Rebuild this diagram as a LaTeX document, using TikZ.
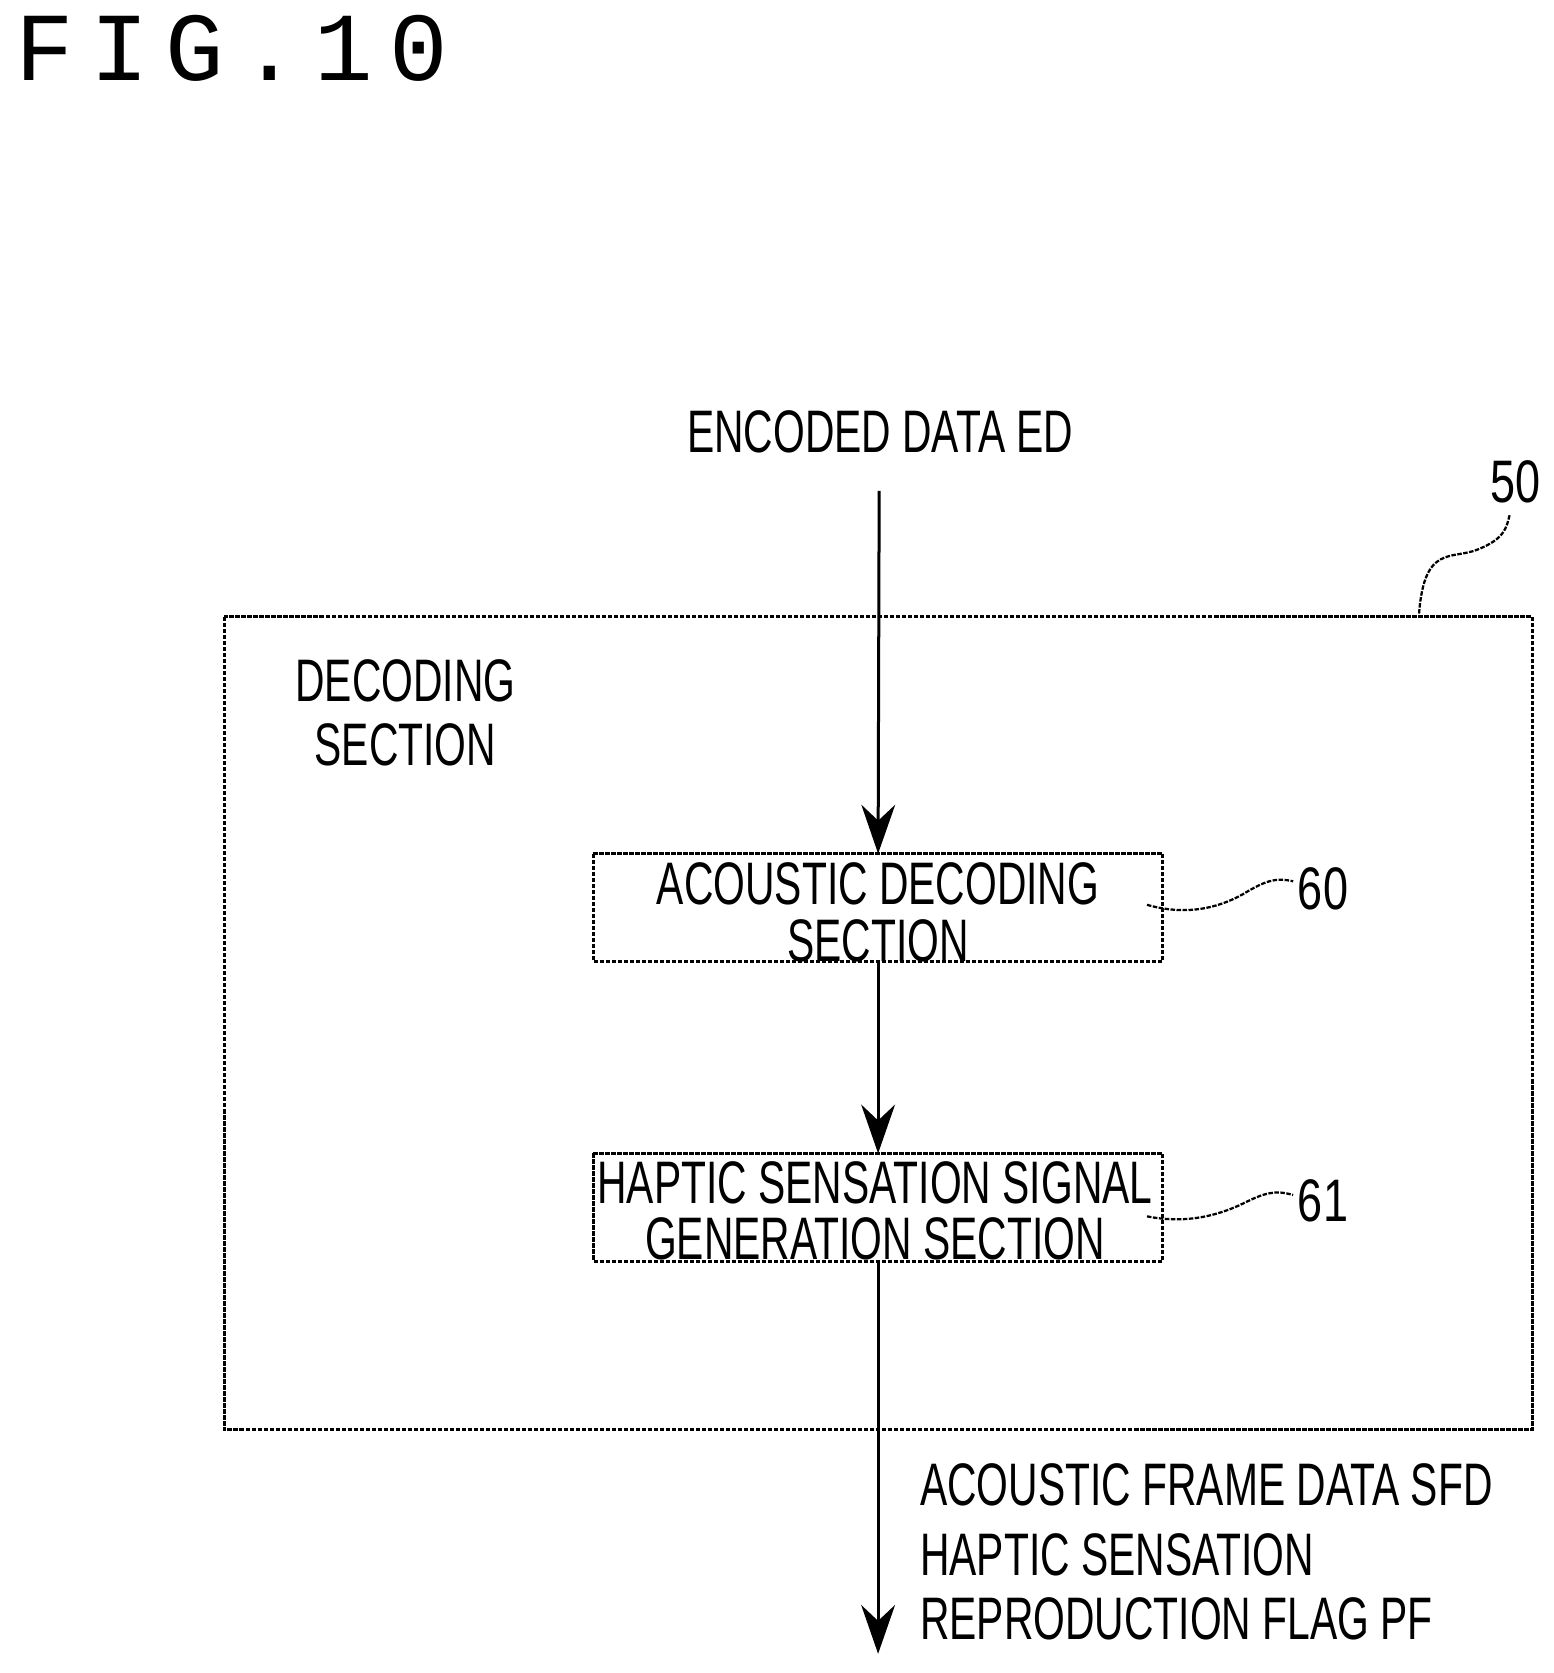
\documentclass[tikz,border=0pt]{standalone}
\usepackage{fontspec}
\setmainfont{Liberation Sans}
\newfontfamily\titlefont{Liberation Mono}
\usetikzlibrary{arrows.meta}
\begin{document}
\begin{tikzpicture}[x=0.01cm,y=-0.01cm,
  ln/.style={line width=0.8pt,dash pattern=on 1.2pt off 0.4pt},
  arr/.style={line width=0.8pt,-{Stealth[length=13pt,width=9pt]}},
  txt/.style={font=\fontsize{16}{19}\selectfont,xscale=0.68,inner sep=0pt,align=center},
  lbl/.style={font=\fontsize{16}{19}\selectfont,xscale=0.75,inner sep=0pt}]
\useasboundingbox (0,0) rectangle (1456,1568);
\node[anchor=west,inner sep=0pt,font=\titlefont\fontsize{26}{30}\selectfont] (title) at (14,45) {F\,I\,G\,.\,1\,0};
\node[txt] (ed) at (825,405) {ENCODED DATA ED};
\draw[ln] (210,578) rectangle (1436,1340);
\node (outer) at (823,959) {};
\node[txt] (dec) at (380,668) {DECODING\\[-2pt]SECTION};
\node[lbl] (n50) at (1420,452) {50};
\draw[ln,line width=0.6pt] (1330,575) .. controls (1335,510) and (1360,525) .. (1385,515) .. controls (1410,505) and (1412,495) .. (1415,482);
\draw[ln] (556,800) rectangle (1090,901);
\node[txt] (b60) at (823,855) {ACOUSTIC DECODING\\[-4pt]SECTION};
\coordinate (b60t) at (823,800); \coordinate (b60b) at (823,901);
\node[lbl] (n60) at (1240,833) {60};
\draw[ln,line width=0.6pt] (1075,848) .. controls (1110,858) and (1140,852) .. (1165,838) .. controls (1185,826) and (1195,822) .. (1212,826);
\draw[ln] (556,1081) rectangle (1090,1182);
\node[txt] (b61) at (820,1135) {HAPTIC SENSATION SIGNAL\\[-4pt]GENERATION SECTION};
\coordinate (b61t) at (823,1081); \coordinate (b61b) at (823,1182);
\node[lbl] (n61) at (1240,1125) {61};
\draw[ln,line width=0.6pt] (1075,1140) .. controls (1110,1147) and (1140,1140) .. (1165,1128) .. controls (1185,1118) and (1195,1115) .. (1212,1120);
\coordinate (top) at (824,460);
\coordinate (bot) at (823,1550);
\draw[arr] (top) -- (b60t);
\draw[arr] (b60b) -- (b61t);
\draw[arr] (b61b) -- (bot);
\node[txt,anchor=west] (sfd) at (862,1392) {ACOUSTIC FRAME DATA SFD};
\node[txt,anchor=west,align=left] (pf) at (862,1487) {HAPTIC SENSATION\\[-2pt]REPRODUCTION FLAG PF};
\end{tikzpicture}
\end{document}
